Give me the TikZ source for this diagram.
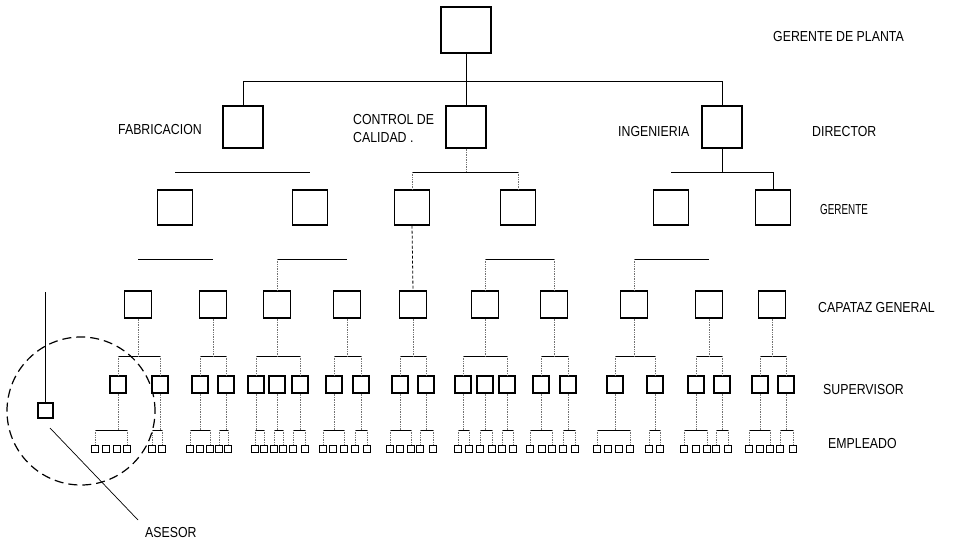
\documentclass[tikz,border=0pt]{standalone}
\usepackage{fontspec}
\usepackage{graphicx}
\setmainfont{Liberation Sans}[FakeStretch=0.85]
\begin{document}
\begin{tikzpicture}[x=1pt,y=-1pt,
  bx/.style={draw,line width=1.1pt,inner sep=0pt,fill=white},
  b1/.style={bx,minimum width=50pt,minimum height=46pt},
  b2/.style={bx,minimum width=40pt,minimum height=42pt},
  b3/.style={bx,minimum width=35pt,minimum height=35pt},
  b4/.style={bx,minimum width=27pt,minimum height=27pt},
  b5/.style={bx,minimum width=16pt,minimum height=17pt},
  b6/.style={draw,line width=1pt,inner sep=0pt,minimum width=7pt,minimum height=6.5pt},
  ba/.style={bx,minimum width=15pt,minimum height=15pt},
  ln/.style={line width=1pt},
  dl/.style={line width=0.7pt,densely dotted,black!55},
  lbl/.style={anchor=west,inner sep=0pt,font=\fontsize{14.5}{18}\selectfont,align=left}]
\useasboundingbox (0,0) rectangle (956,546);
% row coordinates
\coordinate (r1) at (0,81);
\coordinate (r2) at (0,172);
\coordinate (r3) at (0,259);
\coordinate (r4) at (0,356);
\coordinate (r5) at (0,430);
% boxes
\node[b1] (g0) at (466,30) {};
\node[b2] (d1) at (243,127) {};
\node[b2] (d2) at (466,127) {};
\node[b2] (d3) at (722,127) {};
\foreach \x [count=\i] in {175,310,412,518,671,773}
  \node[b3] (m\i) at (\x,207.5) {};
\foreach \x [count=\i] in {138,213,277,347,413,485,554,634,709,772}
  \node[b4] (c\i) at (\x,304.5) {};
\foreach \x [count=\i] in {118,160,200,226,256,277,300,334,361,400,426,463,485,507,541,568,615,655,696,722,760,786}
  \node[b5] (s\i) at (\x,384.5) {};
\foreach \x [count=\i] in {95,106,117,127,152,162,190,200,210,219,228,255,264,274,283,293,305,323,333,344,355,367,390,400,411,420,433,458,469,480,492,502,513,530,542,552,563,575,597,608,619,630,649,660,684,696,707,716,728,749,760,770,780,793}
  \node[b6] (e\i) at (\x,449) {};
% level 1 -> 2
\draw[ln] (g0.south) -- (g0 |- r1);
\draw[ln] (d1.north) -- (d1 |- r1) -- (d3 |- r1) -- (d3.north);
\draw[ln] (d2.north) -- (d2 |- r1);
% level 2 -> 3
\draw[ln] (m1 |- r2) -- (m2 |- r2);
\draw[dl] (d2.south) -- (d2 |- r2);
\draw[ln] (m3 |- r2) -- (m4 |- r2);
\draw[dl] (m3 |- r2) -- (m3.north);
\draw[dl] (m4 |- r2) -- (m4.north);
\draw[ln] (d3.south) -- (d3 |- r2);
\draw[ln] (m5 |- r2) -- (m6 |- r2) -- (m6.north);
% level 3 -> 4
\foreach \p/\a/\b in {1/1/2,2/3/4,4/6/7,5/8/9}
  \draw[ln] (c\a |- r3) -- (c\b |- r3);
\draw[dl] (c3 |- r3) -- (c3.north);
\draw[dl] (c6 |- r3) -- (c6.north);
\draw[dl] (c7 |- r3) -- (c7.north);
\draw[dl] (c8 |- r3) -- (c8.north);
\draw[line width=0.8pt,densely dashed] (m3.south) -- (c5.north);
% level 4 -> 5
\foreach \p/\a/\b in {1/1/2,2/3/4,3/5/7,4/8/9,5/10/11,6/12/14,7/15/16,8/17/18,9/19/20,10/21/22}{
  \draw[ln] (s\a |- r4) -- (s\b |- r4);
  \draw[dl] (c\p.south) -- (c\p |- r4);
  \draw[dl] (s\a |- r4) -- (s\a.north);
  \draw[dl] (s\b |- r4) -- (s\b.north);
}
% level 5 -> 6
\foreach \p/\a/\b in {1/1/4,2/5/6,3/7/9,4/10/11,5/12/13,6/14/15,7/16/17,8/18/20,9/21/22,10/23/25,11/26/27,12/28/29,13/30/31,14/32/33,15/34/36,16/37/38,17/39/42,18/43/44,19/45/47,20/48/49,21/50/52,22/53/54}{
  \draw[ln] (e\a |- r5) -- (e\b |- r5);
  \draw[dl] (s\p.south) -- (s\p |- r5);
  \draw[dl] (e\a |- r5) -- (e\a.north);
  \draw[dl] (e\b |- r5) -- (e\b.north);
}
% asesor
\node[ba] (as) at (45.5,410.5) {};
\coordinate (at) at (45.5,292);
\draw[ln] (at) -- (as.north);
\node[draw,circle,line width=1.2pt,dash pattern=on 9pt off 5pt,minimum size=148pt,inner sep=0pt] (circ) at (81,411) {};
\coordinate (ap0) at (50,428);
\coordinate (ap) at (138,520);
\draw[line width=0.7pt] (ap0) -- (ap);
% labels
\node[lbl] (lgp) at (773,37) {GERENTE DE PLANTA};
\node[lbl] (lfab) at (118,130) {FABRICACION};
\node[lbl] (lcc) at (353,129) {CONTROL DE\\CALIDAD .};
\node[lbl] (ling) at (618,132) {INGENIERIA};
\node[lbl] (ldir) at (812,132) {DIRECTOR};
\node[lbl] (lger) at (820,210) {\scalebox{0.8}[1]{GERENTE}};
\node[lbl] (lcap) at (818,308) {CAPATAZ GENERAL};
\node[lbl] (lsup) at (823,390) {SUPERVISOR};
\node[lbl] (lemp) at (828,444) {EMPLEADO};
\node[lbl] (lase) at (145,533) {ASESOR};
\end{tikzpicture}
\end{document}
